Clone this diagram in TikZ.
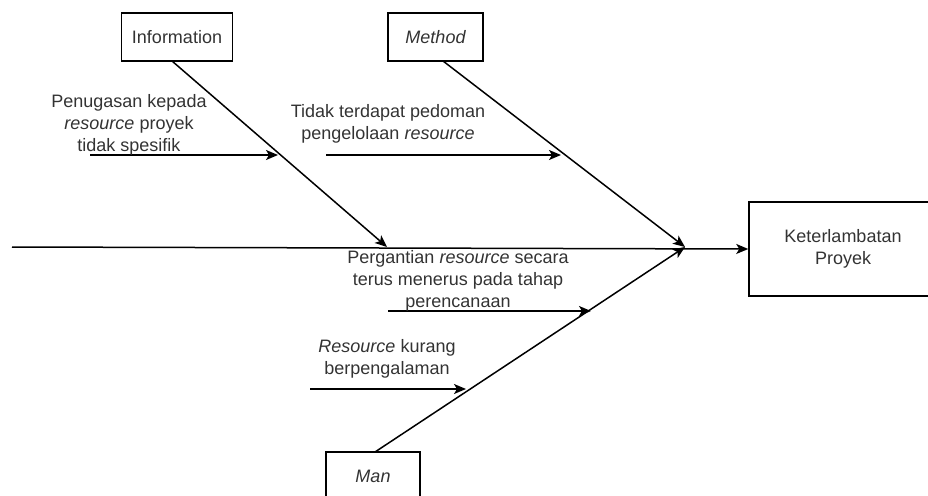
\documentclass[tikz,border=0pt]{standalone}
\usepackage{fontspec}
\setmainfont{Liberation Sans}
\usetikzlibrary{arrows.meta}
\definecolor{txt}{HTML}{333333}
\tikzset{
  box/.style={draw, line width=1.5pt, rectangle, inner sep=0pt, text=txt, align=center},
  lbl/.style={align=center, text=txt, inner sep=0pt},
  arr/.style={line width=1.5pt, -{Stealth[length=12pt,width=10pt,inset=3pt]}}
}
\begin{document}
\begin{tikzpicture}[x=1pt,y=-1pt,font=\fontsize{18}{22}\selectfont]
\useasboundingbox (0,0) rectangle (928,495);
\clip (0,0) rectangle (928,495);
% boxes
\node[box, minimum width=111pt, minimum height=48pt] (info) at (177,37) {Information};
\node[box, minimum width=95pt, minimum height=48pt] (method) at (435.5,37) {\itshape Method};
\node[box, minimum width=94pt, minimum height=48pt] (man) at (373,476) {\itshape Man};
\node[box, minimum width=188pt, minimum height=94pt] (ket) at (843,249) {Keterlambatan\\Proyek};
% coordinates
\coordinate (spineL) at (12,247);
\coordinate (head) at (685,247);
\coordinate (iTop) at (172,61);
\coordinate (iEnd) at (387,247);
\coordinate (mTop) at (443,61);
\coordinate (nBot) at (375,452);
\coordinate (a1s) at (90,155);   \coordinate (a1e) at (278,155);
\coordinate (a2s) at (326,155);  \coordinate (a2e) at (561,155);
\coordinate (a3s) at (388,311);  \coordinate (a3e) at (591,311);
\coordinate (a4s) at (310,389);  \coordinate (a4e) at (466,389);
% spine
\draw[arr] (spineL) -- (ket.west);
% bones
\draw[arr] (iTop) -- (iEnd);
\draw[arr] (mTop) -- (head);
\draw[arr] (nBot) -- (head);
% sub arrows
\draw[arr] (a1s) -- (a1e);
\draw[arr] (a2s) -- (a2e);
\draw[arr] (a3s) -- (a3e);
\draw[arr] (a4s) -- (a4e);
% labels
\node[lbl] (t1) at (129,125) {Penugasan kepada\\\textit{resource} proyek\\tidak spesifik};
\node[lbl] (t2) at (388,124) {Tidak terdapat pedoman\\pengelolaan \textit{resource}};
\node[lbl] (t3) at (458,281) {Pergantian \textit{resource} secara\\terus menerus pada tahap\\perencanaan};
\node[lbl] (t4) at (387,359) {\textit{Resource} kurang\\berpengalaman};
\end{tikzpicture}
\end{document}
